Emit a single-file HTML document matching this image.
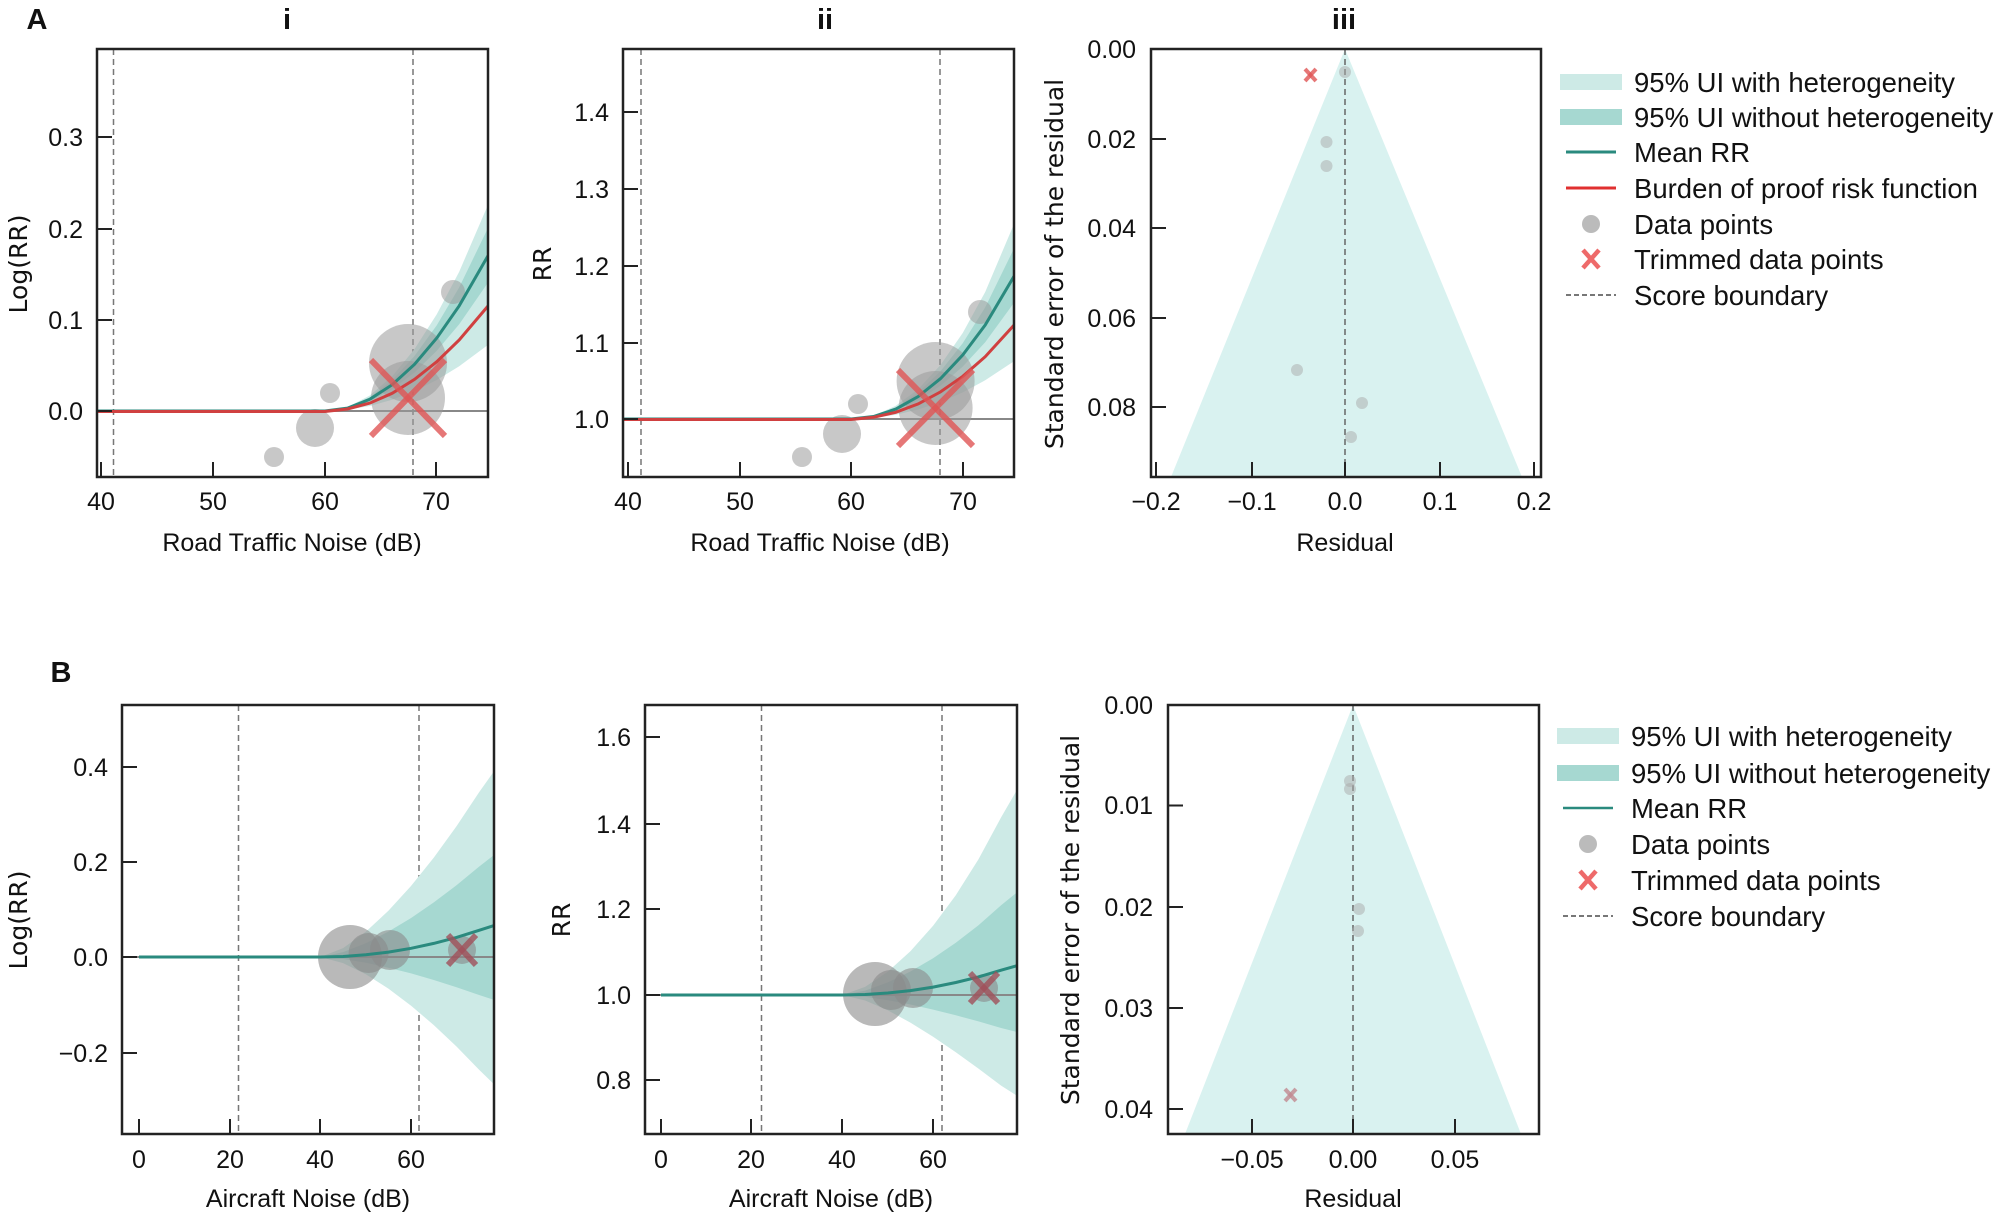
<!DOCTYPE html>
<html><head><meta charset="utf-8"><style>
html,body{margin:0;padding:0;background:#fff;}
svg{display:block;}
text{font-family:"Liberation Sans",sans-serif;fill:#111;}
.tk{font-size:25px;}
.yl{font-family:"DejaVu Sans",sans-serif;font-size:25px;}
.lg{font-size:27.5px;}
.ti{font-size:29px;font-weight:bold;}
</style></head><body>
<svg width="2001" height="1215" viewBox="0 0 2001 1215" xmlns="http://www.w3.org/2000/svg">
<rect width="2001" height="1215" fill="#fff"/>
<text class="ti" x="37" y="29" text-anchor="middle">A</text>
<text class="ti" x="287" y="29" text-anchor="middle">i</text>
<text class="ti" x="825" y="29" text-anchor="middle">ii</text>
<text class="ti" x="1344" y="29" text-anchor="middle">iii</text>
<text class="ti" x="61" y="682" text-anchor="middle">B</text>

<!-- ========== A i ========== -->
<g>
<clipPath id="c1"><rect x="97" y="49" width="391" height="428"/></clipPath>
<g clip-path="url(#c1)">
<line x1="113.5" y1="49" x2="113.5" y2="477" stroke="#777" stroke-width="1.5" stroke-dasharray="6,4"/>
<line x1="413" y1="49" x2="413" y2="477" stroke="#777" stroke-width="1.5" stroke-dasharray="6,4"/>
<polygon fill="#cdeae6" points="325,411 347.5,407.1 369.8,395.5 392.2,376.3 414.5,349.1 436.8,314.2 459.2,271.7 488,204.9 488,344.9 459.2,366.3 436.8,380 414.5,391.1 392.2,399.8 369.8,406 347.5,409.8"/>
<polygon fill="#a6d8d1" points="325,411 347.5,407.6 369.8,397.3 392.2,380.1 414.5,356 436.8,325.2 459.2,287.4 488,228 488,282.6 459.2,324.3 436.8,350.7 414.5,372.5 392.2,389.3 369.8,401.3 347.5,408.6"/>
<line x1="97" y1="411" x2="488" y2="411" stroke="#888" stroke-width="2"/>
<g fill="#9a9a9a" fill-opacity="0.55">
<circle cx="408" cy="363" r="39"/><circle cx="408" cy="398" r="37"/>
<circle cx="315" cy="428" r="19"/><circle cx="330" cy="393" r="10"/>
<circle cx="274" cy="457" r="10"/><circle cx="453" cy="292" r="12"/>
</g>
<polyline fill="none" stroke="#2a8a7e" stroke-width="3" points="97,411 325,411 347.5,408.1 369.8,399.3 392.2,384.7 414.5,364.3 436.8,338 459.2,305.8 488,255.8"/>
<polyline fill="none" stroke="#d04040" stroke-width="3" points="97,411.5 325,411.5 347.5,409 369.8,403.1 392.2,393.3 414.5,379.4 436.8,361.7 459.2,340 488,306"/>
<g stroke="#e05555" stroke-opacity="0.8" stroke-width="6"><line x1="371" y1="360" x2="445" y2="436"/><line x1="445" y1="360" x2="371" y2="436"/></g>
</g>
<rect x="97" y="49" width="391" height="428" fill="none" stroke="#222" stroke-width="2.5"/>
<g stroke="#222" stroke-width="2">
<line x1="101" y1="477" x2="101" y2="462"/><line x1="213" y1="477" x2="213" y2="462"/><line x1="325" y1="477" x2="325" y2="462"/><line x1="436" y1="477" x2="436" y2="462"/>
<line x1="97" y1="137" x2="112" y2="137"/><line x1="97" y1="229" x2="112" y2="229"/><line x1="97" y1="320" x2="112" y2="320"/><line x1="97" y1="411" x2="112" y2="411"/>
</g>
<g class="tk" text-anchor="middle"><text x="101" y="510">40</text><text x="213" y="510">50</text><text x="325" y="510">60</text><text x="436" y="510">70</text></g>
<g class="tk" text-anchor="end"><text x="83" y="146">0.3</text><text x="83" y="238">0.2</text><text x="83" y="329">0.1</text><text x="83" y="420">0.0</text></g>
<text class="tk" x="292" y="551" text-anchor="middle">Road Traffic Noise (dB)</text>
<text class="yl" transform="translate(27,264) rotate(-90)" text-anchor="middle">Log(RR)</text>
</g>

<!-- ========== A ii ========== -->
<g>
<clipPath id="c2"><rect x="623" y="49" width="391" height="428"/></clipPath>
<g clip-path="url(#c2)">
<line x1="641" y1="49" x2="641" y2="477" stroke="#777" stroke-width="1.5" stroke-dasharray="6,4"/>
<line x1="940" y1="49" x2="940" y2="477" stroke="#777" stroke-width="1.5" stroke-dasharray="6,4"/>
<polygon fill="#cdeae6" points="851,419 873.5,415.7 895.8,405.8 918.2,389.2 940.5,365 962.8,332.9 985.2,292 1014,224 1014,361.2 985.2,380.3 962.8,392.4 940.5,402.1 918.2,409.5 895.8,414.8 873.5,418"/>
<polygon fill="#a6d8d1" points="851,419 873.5,416.1 895.8,407.4 918.2,392.5 940.5,371.2 962.8,343.1 985.2,307.4 1014,248.5 1014,302.7 985.2,342.2 962.8,366.5 940.5,385.8 918.2,400.4 895.8,410.8 873.5,417"/>
<line x1="623" y1="419" x2="1014" y2="419" stroke="#888" stroke-width="2"/>
<g fill="#9a9a9a" fill-opacity="0.55">
<circle cx="935.6" cy="381" r="39"/><circle cx="935.6" cy="408" r="37"/>
<circle cx="842" cy="434" r="19"/><circle cx="858" cy="404" r="10"/>
<circle cx="802" cy="457" r="10"/><circle cx="980" cy="312" r="12"/>
</g>
<polyline fill="none" stroke="#2a8a7e" stroke-width="3" points="623,419 851,419 873.5,416.5 895.8,409.1 918.2,396.5 940.5,378.6 962.8,354.9 985.2,325 1014,276.3"/>
<polyline fill="none" stroke="#d04040" stroke-width="3" points="623,419.5 851,419.5 873.5,417.3 895.8,412.3 918.2,403.9 940.5,391.9 962.8,376.3 985.2,356.7 1014,325.1"/>
<g stroke="#e05555" stroke-opacity="0.8" stroke-width="6"><line x1="898" y1="370" x2="973" y2="446"/><line x1="973" y1="370" x2="898" y2="446"/></g>
</g>
<rect x="623" y="49" width="391" height="428" fill="none" stroke="#222" stroke-width="2.5"/>
<g stroke="#222" stroke-width="2">
<line x1="628" y1="477" x2="628" y2="462"/><line x1="740" y1="477" x2="740" y2="462"/><line x1="851" y1="477" x2="851" y2="462"/><line x1="963" y1="477" x2="963" y2="462"/>
<line x1="623" y1="112" x2="638" y2="112"/><line x1="623" y1="189" x2="638" y2="189"/><line x1="623" y1="266" x2="638" y2="266"/><line x1="623" y1="343" x2="638" y2="343"/><line x1="623" y1="419" x2="638" y2="419"/>
</g>
<g class="tk" text-anchor="middle"><text x="628" y="510">40</text><text x="740" y="510">50</text><text x="851" y="510">60</text><text x="963" y="510">70</text></g>
<g class="tk" text-anchor="end"><text x="609" y="121">1.4</text><text x="609" y="198">1.3</text><text x="609" y="275">1.2</text><text x="609" y="352">1.1</text><text x="609" y="428">1.0</text></g>
<text class="tk" x="820" y="551" text-anchor="middle">Road Traffic Noise (dB)</text>
<text class="yl" transform="translate(551,264) rotate(-90)" text-anchor="middle">RR</text>
</g>

<!-- ========== A iii ========== -->
<g>
<clipPath id="c3"><rect x="1151" y="49" width="390" height="428"/></clipPath>
<g clip-path="url(#c3)">
<polygon fill="#d9f2f0" points="1345,49 1171,477 1522,477"/>
<line x1="1345" y1="49" x2="1345" y2="477" stroke="#666" stroke-width="1.5" stroke-dasharray="6,4"/>
<g fill="#aaa" fill-opacity="0.5">
<circle cx="1345" cy="72" r="6"/><circle cx="1326.5" cy="142" r="6"/><circle cx="1326.5" cy="166" r="6"/>
<circle cx="1297" cy="370" r="6"/><circle cx="1362" cy="403" r="6"/><circle cx="1351" cy="437" r="6"/>
</g>
<g stroke="#e05555" stroke-opacity="0.8" stroke-width="4"><line x1="1305" y1="69" x2="1316" y2="81"/><line x1="1316" y1="69" x2="1305" y2="81"/></g>
</g>
<rect x="1151" y="49" width="390" height="428" fill="none" stroke="#222" stroke-width="2.5"/>
<g stroke="#222" stroke-width="2">
<line x1="1156" y1="477" x2="1156" y2="462"/><line x1="1252" y1="477" x2="1252" y2="462"/><line x1="1345" y1="477" x2="1345" y2="462"/><line x1="1440" y1="477" x2="1440" y2="462"/><line x1="1534" y1="477" x2="1534" y2="462"/>
<line x1="1151" y1="139" x2="1166" y2="139"/><line x1="1151" y1="228" x2="1166" y2="228"/><line x1="1151" y1="318" x2="1166" y2="318"/><line x1="1151" y1="407" x2="1166" y2="407"/>
</g>
<g class="tk" text-anchor="middle"><text x="1156" y="510">−0.2</text><text x="1252" y="510">−0.1</text><text x="1345" y="510">0.0</text><text x="1440" y="510">0.1</text><text x="1534" y="510">0.2</text></g>
<g class="tk" text-anchor="end"><text x="1136" y="58">0.00</text><text x="1136" y="148">0.02</text><text x="1136" y="237">0.04</text><text x="1136" y="327">0.06</text><text x="1136" y="416">0.08</text></g>
<text class="tk" x="1345" y="551" text-anchor="middle">Residual</text>
<text class="yl" transform="translate(1063,264) rotate(-90)" text-anchor="middle">Standard error of the residual</text>
<rect x="1560" y="74" width="62" height="16" fill="#cdeae6"/>
<rect x="1560" y="109" width="62" height="16" fill="#a6d8d1"/>
<line x1="1566" y1="152" x2="1616" y2="152" stroke="#2a8a7e" stroke-width="3"/>
<line x1="1566" y1="188" x2="1616" y2="188" stroke="#e03030" stroke-width="3"/>
<circle cx="1591" cy="224" r="9" fill="#bbb"/>
<g stroke="#ee6a6a" stroke-width="4.5"><line x1="1583" y1="250" x2="1599" y2="268"/><line x1="1599" y1="250" x2="1583" y2="268"/></g>
<line x1="1566" y1="295" x2="1616" y2="295" stroke="#777" stroke-width="2" stroke-dasharray="5,3"/>
<g class="lg"><text x="1634" y="92">95% UI with heterogeneity</text><text x="1634" y="127">95% UI without heterogeneity</text><text x="1634" y="162">Mean RR</text><text x="1634" y="198">Burden of proof risk function</text><text x="1634" y="234">Data points</text><text x="1634" y="269">Trimmed data points</text><text x="1634" y="305">Score boundary</text></g>
</g>

<!-- ========== B i ========== -->
<g>
<clipPath id="c4"><rect x="122" y="705" width="372" height="429"/></clipPath>
<g clip-path="url(#c4)">
<line x1="238.5" y1="705" x2="238.5" y2="1134" stroke="#777" stroke-width="1.5" stroke-dasharray="6,4"/>
<line x1="419" y1="705" x2="419" y2="1134" stroke="#777" stroke-width="1.5" stroke-dasharray="6,4"/>
<polygon fill="#cdeae6" points="320.4,957 343.1,948.1 365.8,931.8 388.4,910.8 411.1,885.9 433.8,857.6 456.5,826.3 479.1,792.3 494,771.2 494,1084.2 479.1,1069.8 456.5,1046.5 433.8,1025.1 411.1,1005.7 388.4,988.6 365.8,974.2 343.1,963.1"/>
<polygon fill="#a6d8d1" points="320.4,957 343.1,952.1 365.8,943.2 388.4,931.6 411.1,918 433.8,902.4 456.5,885.3 479.1,866.6 494,855 494,999.9 479.1,995 456.5,987.2 433.8,980 411.1,973.4 388.4,967.7 365.8,962.8 343.1,959"/>
<line x1="122" y1="957" x2="494" y2="957" stroke="#888" stroke-width="2"/>
<g fill="#8a8a8a" fill-opacity="0.6">
<circle cx="350" cy="957" r="32"/><circle cx="368.6" cy="953" r="20"/><circle cx="390" cy="950" r="20"/><circle cx="462" cy="950" r="14"/>
</g>
<polyline fill="none" stroke="#2a8a7e" stroke-width="3" points="139,957 320.4,957 343.1,956.5 365.8,954.8 388.4,952.1 411.1,948.3 433.8,943.4 456.5,937.4 479.1,930.3 494,925.6"/>
<g stroke="#a0505a" stroke-opacity="0.8" stroke-width="6"><line x1="448" y1="935" x2="476" y2="965"/><line x1="476" y1="935" x2="448" y2="965"/></g>
</g>
<rect x="122" y="705" width="372" height="429" fill="none" stroke="#222" stroke-width="2.5"/>
<g stroke="#222" stroke-width="2">
<line x1="139" y1="1134" x2="139" y2="1119"/><line x1="230" y1="1134" x2="230" y2="1119"/><line x1="320" y1="1134" x2="320" y2="1119"/><line x1="411" y1="1134" x2="411" y2="1119"/>
<line x1="122" y1="767" x2="137" y2="767"/><line x1="122" y1="862" x2="137" y2="862"/><line x1="122" y1="957" x2="137" y2="957"/><line x1="122" y1="1053" x2="137" y2="1053"/>
</g>
<g class="tk" text-anchor="middle"><text x="139" y="1168">0</text><text x="230" y="1168">20</text><text x="320" y="1168">40</text><text x="411" y="1168">60</text></g>
<g class="tk" text-anchor="end"><text x="108" y="776">0.4</text><text x="108" y="871">0.2</text><text x="108" y="966">0.0</text><text x="108" y="1062">−0.2</text></g>
<text class="tk" x="308" y="1207" text-anchor="middle">Aircraft Noise (dB)</text>
<text class="yl" transform="translate(27,920) rotate(-90)" text-anchor="middle">Log(RR)</text>
</g>

<!-- ========== B ii ========== -->
<g>
<clipPath id="c5"><rect x="645" y="705" width="372" height="429"/></clipPath>
<g clip-path="url(#c5)">
<line x1="761.5" y1="705" x2="761.5" y2="1134" stroke="#777" stroke-width="1.5" stroke-dasharray="6,4"/>
<line x1="942" y1="705" x2="942" y2="1134" stroke="#777" stroke-width="1.5" stroke-dasharray="6,4"/>
<polygon fill="#cdeae6" points="842.4,995 865.1,986.9 887.8,971.7 910.4,951.2 933.1,925.8 955.8,895.2 978.5,859.3 1001.1,817.4 1017,789.9 1017,1095.7 1001.1,1085.6 978.5,1068.6 955.8,1052.3 933.1,1036.8 910.4,1022.6 887.8,1010.3 865.1,1000.5"/>
<polygon fill="#a6d8d1" points="842.4,995 865.1,990.6 887.8,982.4 910.4,971.5 933.1,958.3 955.8,942.8 978.5,925.2 1001.1,905.2 1017,892.4 1017,1032 1001.1,1028 978.5,1021.4 955.8,1015.3 933.1,1009.6 910.4,1004.5 887.8,1000.2 865.1,996.8"/>
<line x1="645" y1="995" x2="1017" y2="995" stroke="#888" stroke-width="2"/>
<g fill="#8a8a8a" fill-opacity="0.6">
<circle cx="875" cy="994" r="32"/><circle cx="891" cy="990" r="20"/><circle cx="913" cy="988" r="20"/><circle cx="984" cy="988" r="14"/>
</g>
<polyline fill="none" stroke="#2a8a7e" stroke-width="3" points="661,995 842.4,995 865.1,994.5 887.8,993 910.4,990.6 933.1,987.1 955.8,982.5 978.5,976.9 1001.1,970.2 1017,965.7"/>
<g stroke="#a0505a" stroke-opacity="0.8" stroke-width="6"><line x1="970" y1="973" x2="998" y2="1003"/><line x1="998" y1="973" x2="970" y2="1003"/></g>
</g>
<rect x="645" y="705" width="372" height="429" fill="none" stroke="#222" stroke-width="2.5"/>
<g stroke="#222" stroke-width="2">
<line x1="661" y1="1134" x2="661" y2="1119"/><line x1="751" y1="1134" x2="751" y2="1119"/><line x1="842" y1="1134" x2="842" y2="1119"/><line x1="933" y1="1134" x2="933" y2="1119"/>
<line x1="645" y1="737" x2="660" y2="737"/><line x1="645" y1="824" x2="660" y2="824"/><line x1="645" y1="909" x2="660" y2="909"/><line x1="645" y1="995" x2="660" y2="995"/><line x1="645" y1="1080" x2="660" y2="1080"/>
</g>
<g class="tk" text-anchor="middle"><text x="661" y="1168">0</text><text x="751" y="1168">20</text><text x="842" y="1168">40</text><text x="933" y="1168">60</text></g>
<g class="tk" text-anchor="end"><text x="631" y="746">1.6</text><text x="631" y="833">1.4</text><text x="631" y="918">1.2</text><text x="631" y="1004">1.0</text><text x="631" y="1089">0.8</text></g>
<text class="tk" x="831" y="1207" text-anchor="middle">Aircraft Noise (dB)</text>
<text class="yl" transform="translate(570,920) rotate(-90)" text-anchor="middle">RR</text>
</g>

<!-- ========== B iii ========== -->
<g>
<clipPath id="c6"><rect x="1168" y="705" width="371" height="429"/></clipPath>
<g clip-path="url(#c6)">
<polygon fill="#d9f2f0" points="1353,705 1185,1134 1521,1134"/>
<line x1="1353" y1="705" x2="1353" y2="1134" stroke="#666" stroke-width="1.5" stroke-dasharray="6,4"/>
<g fill="#aaa" fill-opacity="0.5">
<circle cx="1350" cy="781" r="6"/><circle cx="1350" cy="789" r="6"/><circle cx="1359" cy="909" r="6"/><circle cx="1358" cy="931" r="6"/>
</g>
<g stroke="#c08890" stroke-opacity="0.8" stroke-width="4"><line x1="1285" y1="1089" x2="1296" y2="1101"/><line x1="1296" y1="1089" x2="1285" y2="1101"/></g>
</g>
<rect x="1168" y="705" width="371" height="429" fill="none" stroke="#222" stroke-width="2.5"/>
<g stroke="#222" stroke-width="2">
<line x1="1252" y1="1134" x2="1252" y2="1119"/><line x1="1353" y1="1134" x2="1353" y2="1119"/><line x1="1455" y1="1134" x2="1455" y2="1119"/>
<line x1="1168" y1="805.5" x2="1183" y2="805.5"/><line x1="1168" y1="907" x2="1183" y2="907"/><line x1="1168" y1="1008" x2="1183" y2="1008"/><line x1="1168" y1="1109" x2="1183" y2="1109"/>
</g>
<g class="tk" text-anchor="middle"><text x="1252" y="1168">−0.05</text><text x="1353" y="1168">0.00</text><text x="1455" y="1168">0.05</text></g>
<g class="tk" text-anchor="end"><text x="1153" y="714">0.00</text><text x="1153" y="814">0.01</text><text x="1153" y="916">0.02</text><text x="1153" y="1017">0.03</text><text x="1153" y="1118">0.04</text></g>
<text class="tk" x="1353" y="1207" text-anchor="middle">Residual</text>
<text class="yl" transform="translate(1079,920) rotate(-90)" text-anchor="middle">Standard error of the residual</text>
<rect x="1557" y="728" width="62" height="16" fill="#cdeae6"/>
<rect x="1557" y="765" width="62" height="16" fill="#a6d8d1"/>
<line x1="1563" y1="808" x2="1613" y2="808" stroke="#2a8a7e" stroke-width="2.5"/>
<circle cx="1588" cy="844" r="9" fill="#bbb"/>
<g stroke="#ee6a6a" stroke-width="4.5"><line x1="1580" y1="871" x2="1596" y2="889"/><line x1="1596" y1="871" x2="1580" y2="889"/></g>
<line x1="1563" y1="916" x2="1613" y2="916" stroke="#777" stroke-width="2" stroke-dasharray="5,3"/>
<g class="lg"><text x="1631" y="746">95% UI with heterogeneity</text><text x="1631" y="783">95% UI without heterogeneity</text><text x="1631" y="818">Mean RR</text><text x="1631" y="854">Data points</text><text x="1631" y="890">Trimmed data points</text><text x="1631" y="926">Score boundary</text></g>
</g>
</svg>
</body></html>
